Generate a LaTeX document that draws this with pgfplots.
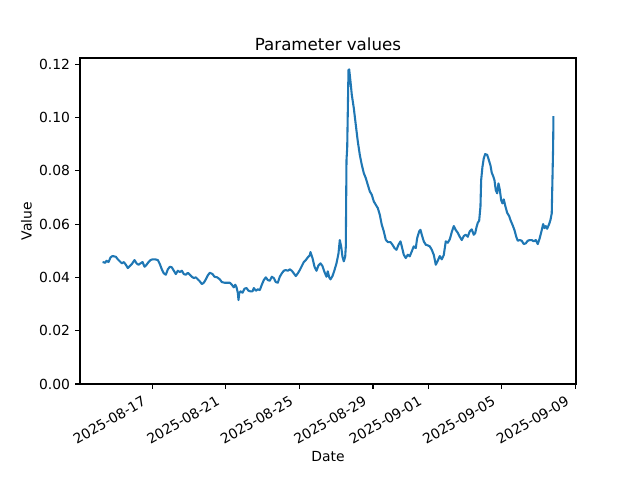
\documentclass[border=0pt]{standalone}
\usepackage{pgfplots}
\pgfplotsset{compat=1.18}
\usepackage{fontspec}
\setmainfont{DejaVu Sans}
\definecolor{tabblue}{HTML}{1F77B4}
\begin{document}
\fontsize{10}{12}\selectfont
\begin{tikzpicture}
\path[use as bounding box] (-57.6pt,-69.12pt) rectangle (403.2pt,276.48pt);
\begin{axis}[
  at={(0pt,0pt)}, anchor=south west,
  scale only axis, width=357.12pt, height=234.72pt,
  xmin=-3.927, xmax=23.036, ymin=0, ymax=0.1223,
  xtick={0,4,8,12,15,19,23},
  xticklabels={2025-08-17,2025-08-21,2025-08-25,2025-08-29,2025-09-01,2025-09-05,2025-09-09},
  ytick={0,0.02,0.04,0.06,0.08,0.1,0.12},
  /pgf/number format/fixed, /pgf/number format/fixed zerofill, /pgf/number format/precision=2, /pgf/number format/assume math mode=true,
  scaled y ticks=false,
  tick pos=left, tick align=outside, major tick length=3.5pt,
  every tick/.style={black, line width=0.8pt},
  axis line style={line width=0.8pt},
  yticklabel style={inner sep=0pt, xshift=-3.5pt, font=\fontsize{10}{12}\selectfont},
  xticklabel style={xshift=-7.5pt, yshift=-4.4pt, rotate=30, anchor=north east, inner sep=0pt, font=\fontsize{10}{12}\selectfont},
  title={Parameter values},
  title style={at={(axis description cs:0.5,1.018)}, anchor=center, font=\fontsize{12}{14}\selectfont},
  xlabel={Date}, ylabel={Value},
  every axis x label/.style={at={(axis description cs:0.5,-0.224)}, anchor=center, font=\fontsize{10}{12}\selectfont},
  every axis y label/.style={at={(axis description cs:-0.1078,0.5)}, rotate=90, anchor=center, font=\fontsize{10}{12}\selectfont},
  clip=true,
]
\addplot[tabblue, line width=1.5pt, line join=round, no markers] coordinates {
(-2.701,0.04575) (-2.554,0.04549) (-2.484,0.04624) (-2.375,0.04575) (-2.266,0.04751)
(-2.158,0.0480) (-1.978,0.04774) (-1.870,0.04676) (-1.761,0.04601) (-1.652,0.04526)
(-1.543,0.04575) (-1.435,0.04474) (-1.326,0.0435) (-1.217,0.04425) (-1.109,0.0450)
(-0.962,0.0465) (-0.853,0.04526) (-0.745,0.04474) (-0.636,0.04526) (-0.527,0.04575)
(-0.418,0.04399) (-0.310,0.04474) (-0.201,0.04575) (-0.092,0.0465) (0.016,0.04676)
(0.163,0.04676) (0.304,0.0465) (0.413,0.0450) (0.522,0.04301) (0.630,0.04151)
(0.739,0.04099) (0.848,0.04301) (0.957,0.04399) (1.065,0.04376) (1.174,0.04249)
(1.283,0.04125) (1.391,0.04249) (1.500,0.0420) (1.609,0.04249) (1.717,0.04125)
(1.826,0.04099) (1.935,0.04174) (2.043,0.04099) (2.152,0.04024) (2.261,0.03975)
(2.370,0.04001) (2.478,0.03926) (2.587,0.03851) (2.696,0.0375) (2.804,0.03799)
(2.913,0.03926) (3.022,0.04076) (3.130,0.04174) (3.277,0.04125) (3.386,0.04024)
(3.533,0.04001) (3.674,0.03926) (3.783,0.03825) (3.929,0.03799) (4.076,0.03799)
(4.217,0.03799) (4.326,0.03724) (4.435,0.03626) (4.511,0.03724) (4.582,0.03626)
(4.652,0.03424) (4.690,0.0315) (4.728,0.03401) (4.799,0.03476) (4.908,0.03424)
(5.016,0.03574) (5.125,0.0360) (5.234,0.03499) (5.342,0.03476) (5.451,0.03476)
(5.522,0.0360) (5.630,0.03499) (5.739,0.03551) (5.848,0.03525) (5.957,0.03724)
(6.065,0.0390) (6.174,0.04001) (6.283,0.0390) (6.391,0.03874) (6.500,0.04024)
(6.609,0.03975) (6.717,0.03825) (6.826,0.03799) (6.935,0.04024) (7.043,0.04151)
(7.152,0.04249) (7.261,0.04275) (7.370,0.04249) (7.478,0.04301) (7.587,0.04249)
(7.696,0.04151) (7.804,0.0405) (7.913,0.04151) (8.022,0.04275) (8.130,0.04425)
(8.239,0.04575) (8.348,0.0465) (8.457,0.04751) (8.565,0.04826) (8.603,0.0495)
(8.712,0.04725) (8.821,0.04399) (8.929,0.04249) (9.038,0.04451) (9.147,0.04526)
(9.255,0.04425) (9.364,0.0420) (9.473,0.04024) (9.543,0.04226) (9.620,0.04001)
(9.690,0.03926) (9.799,0.0405) (9.908,0.04275) (10.016,0.04526) (10.125,0.04901)
(10.196,0.0540) (10.272,0.05149) (10.342,0.04774) (10.413,0.04601) (10.489,0.04774)
(10.522,0.05149) (10.560,0.0840) (10.598,0.0885) (10.668,0.11775) (10.707,0.1180)
(10.777,0.1135) (10.848,0.1085) (10.957,0.1035) (11.065,0.09724) (11.174,0.09101)
(11.283,0.08599) (11.391,0.08224) (11.500,0.07913) (11.609,0.07725) (11.717,0.07474)
(11.826,0.07226) (11.935,0.07099) (12.043,0.06851) (12.152,0.06724) (12.261,0.0660)
(12.370,0.06349) (12.478,0.05974) (12.587,0.05726) (12.696,0.05411) (12.804,0.05325)
(12.951,0.05325) (13.060,0.05224) (13.168,0.0510) (13.277,0.05036) (13.386,0.05224)
(13.495,0.05351) (13.565,0.05164) (13.674,0.04849) (13.783,0.04725) (13.891,0.04849)
(14.000,0.04789) (14.109,0.04976) (14.217,0.05164) (14.326,0.0510) (14.402,0.05475)
(14.511,0.05726) (14.582,0.05786) (14.652,0.05599) (14.761,0.05351) (14.870,0.05224)
(14.978,0.05201) (15.087,0.05164) (15.196,0.05036) (15.304,0.04849) (15.413,0.04474)
(15.522,0.04624) (15.630,0.0480) (15.739,0.04676) (15.848,0.04838) (15.957,0.05351)
(16.065,0.05299) (16.174,0.05426) (16.283,0.0570) (16.391,0.05925) (16.500,0.05775)
(16.609,0.05674) (16.717,0.05524) (16.826,0.0540) (16.935,0.0555) (17.043,0.05599)
(17.152,0.05524) (17.261,0.05726) (17.370,0.05801) (17.478,0.05599) (17.554,0.05651)
(17.625,0.05876) (17.696,0.06049) (17.772,0.06124) (17.842,0.06649) (17.880,0.0765)
(17.951,0.08149) (18.022,0.08464) (18.098,0.08625) (18.207,0.08599) (18.277,0.08449)
(18.386,0.08201) (18.457,0.07924) (18.533,0.0780) (18.603,0.0765) (18.674,0.07275)
(18.750,0.07151) (18.821,0.07526) (18.891,0.07301) (18.967,0.0690) (19.038,0.06776)
(19.109,0.06926) (19.185,0.06701) (19.293,0.06424) (19.402,0.0630) (19.473,0.0615)
(19.582,0.05974) (19.690,0.05775) (19.799,0.05501) (19.870,0.05374) (19.978,0.0540)
(20.087,0.05374) (20.196,0.0525) (20.304,0.05276) (20.413,0.05374) (20.522,0.0540)
(20.630,0.0540) (20.739,0.05351) (20.848,0.0540) (20.957,0.0525) (21.065,0.05475)
(21.174,0.05775) (21.250,0.0600) (21.321,0.0585) (21.391,0.05925) (21.467,0.05824)
(21.576,0.0600) (21.647,0.0615) (21.717,0.06401) (21.755,0.0765) (21.793,0.08899)
(21.810,0.1005)
};
\end{axis}
\end{tikzpicture}
\end{document}
